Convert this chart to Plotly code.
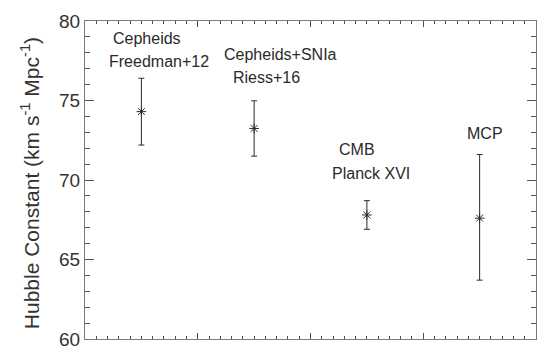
import plotly.graph_objects as go

# Data
methods = ["Cepheids\nFreedman+12", "Cepheids+SNIa\nRiess+16", "CMB\nPlanck XVI", "MCP"]
x_pos = [0.5, 1.5, 2.5, 3.5]
h0 = [74.3, 73.24, 67.8, 67.6]
h0_err_plus = [2.1, 1.74, 0.9, 4.0]
h0_err_minus = [2.1, 1.74, 0.9, 3.9]

# label lines: text and position in data coordinates
label_text = ["Cepheids", "Freedman+12", "Cepheids+SNIa", "Riess+16", "CMB", "Planck XVI", "MCP"]
label_x = [0.554, 0.66, 1.73, 1.61, 2.41, 2.54, 3.55]
label_y = [78.87, 77.43, 77.87, 76.43, 71.91, 70.41, 72.92]

X_RANGE = [0, 4]
Y_RANGE = [60, 80]

FONT = "Liberation Sans, Arial, Helvetica, sans-serif"
AX = "#7a7a7a"
TK = "#505050"
INK = "#2a2a2a"

fig = go.Figure()
fig.add_trace(go.Scatter(
    x=x_pos, y=h0, mode="markers",
    marker=dict(symbol="asterisk-open", size=8, color=INK, line=dict(width=1, color=INK)),
    error_y=dict(type="data", symmetric=False, array=h0_err_plus, arrayminus=h0_err_minus,
                 color=INK, thickness=1, width=3),
    showlegend=False,
))
# empty trace so the minor-tick overlay axes exist
fig.add_trace(go.Scatter(x=[], y=[], xaxis="x2", yaxis="y2", showlegend=False, hoverinfo="skip"))

for t, x, y in zip(label_text, label_x, label_y):
    fig.add_annotation(x=x, y=y, xref="x", yref="y", text=t, showarrow=False,
                       font=dict(family=FONT, size=16, color=INK))

# y-axis title as rotated annotation
fig.add_annotation(x=-55 / 451, y=0.49, xref="paper", yref="paper", textangle=-90,
                   xanchor="center", yanchor="middle",
                   text="Hubble Constant (km s<sup>-1</sup> Mpc<sup>-1</sup>)", showarrow=False,
                   font=dict(family=FONT, size=21, color="#333333"))

fig.update_layout(
    width=557, height=360,
    margin=dict(l=85, r=21, t=21, b=21, autoexpand=False),
    paper_bgcolor="white", plot_bgcolor="white",
    font=dict(family=FONT, color="#333333"),
    xaxis=dict(
        range=X_RANGE, dtick=1, tick0=0, showticklabels=False, showgrid=False, zeroline=False,
        showline=True, linecolor=AX, linewidth=1, mirror="allticks",
        ticks="inside", ticklen=6, tickcolor=TK, tickwidth=1, automargin=False,
    ),
    yaxis=dict(
        range=Y_RANGE, dtick=5, tick0=60, showgrid=False, zeroline=False,
        showline=True, linecolor=AX, linewidth=1, mirror="allticks",
        ticks="inside", ticklen=9, tickcolor=TK, tickwidth=1, automargin=False,
        tickfont=dict(family=FONT, size=19, color="#333333"),
    ),
    xaxis2=dict(
        overlaying="x", anchor="y2", side="bottom", range=X_RANGE, dtick=0.1, tick0=0,
        showticklabels=False, showgrid=False, zeroline=False,
        showline=True, linecolor=AX, linewidth=1, mirror="allticks",
        ticks="inside", ticklen=3, tickcolor=TK, tickwidth=1, automargin=False,
    ),
    yaxis2=dict(
        overlaying="y", anchor="x2", side="left", range=Y_RANGE, dtick=1, tick0=60,
        showticklabels=False, showgrid=False, zeroline=False,
        showline=True, linecolor=AX, linewidth=1, mirror="allticks",
        ticks="inside", ticklen=5, tickcolor=TK, tickwidth=1, automargin=False,
    ),
)

fig.write_html("out.html", config={"displayModeBar": False},
               post_script="document.body.style.margin='0';")
